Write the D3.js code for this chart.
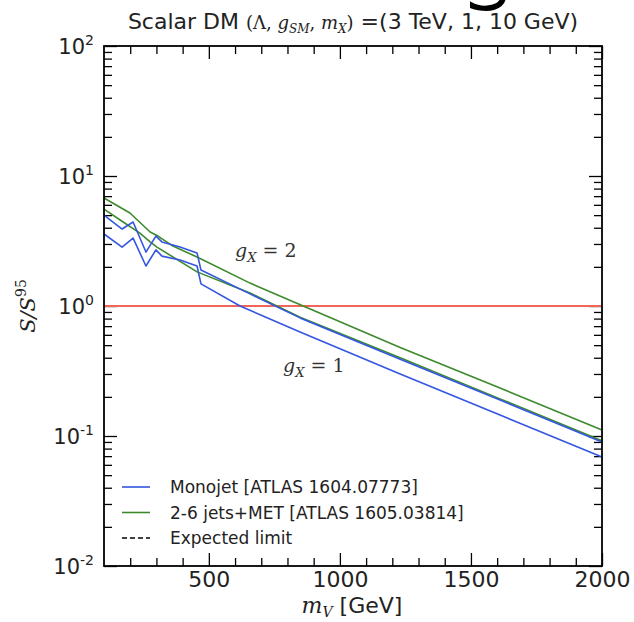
<!DOCTYPE html>
<html>
  <head>
    <meta charset="utf-8" />
    <script src="https://d3js.org/d3.v7.min.js"></script>
    <style>
        body {margin: 0; background: #fff;}
        text {font-family: "DejaVu Sans", sans-serif;}
    </style>
  </head>
  <body>
    <svg id="viz"></svg>
    <script>
        var width = 634
        var height = 622

        // curves: mediator mass [GeV] and S/S95
        var monoG1Mass = [100, 169, 211, 260, 298, 321, 390, 455, 470, 619, 848, 1230, 1611, 2000]
        var monoG1Vals = [3.58, 2.84, 3.33, 2.03, 2.70, 2.42, 2.26, 2.03, 1.48, 1.0, 0.63, 0.30, 0.145, 0.069]
        var monoG2Mass = [100, 169, 211, 260, 298, 321, 390, 455, 470, 657, 848, 1230, 1611, 2000]
        var monoG2Vals = [5.01, 3.91, 4.43, 2.60, 3.45, 3.11, 2.84, 2.56, 1.89, 1.24, 0.81, 0.39, 0.189, 0.090]
        var jetsG1Mass = [100, 173, 237, 276, 302, 455, 657, 848, 1230, 1611, 2000]
        var jetsG1Vals = [5.57, 4.43, 3.64, 3.11, 2.84, 1.83, 1.26, 0.82, 0.40, 0.193, 0.092]
        var jetsG2Mass = [100, 199, 276, 306, 363, 455, 657, 860, 1230, 1611, 2000]
        var jetsG2Vals = [6.78, 5.19, 3.71, 3.45, 2.89, 2.38, 1.50, 1.0, 0.48, 0.234, 0.111]

        var xTicks = [500, 1000, 1500, 2000]
        var yTicks = [0.01, 0.1, 1, 10, 100]
        var yExps = ["-2", "-1", "0", "1", "2"]
        var legendNames = ["Monojet [ATLAS 1604.07773]", "2-6 jets+MET [ATLAS 1605.03814]", "Expected limit"]

        var blue = "#3456e0", green = "#3c8a2c"

        var svg = d3.select("#viz").attr("width", width).attr("height", height)

        var x = d3.scaleLinear().domain([100, 2000]).range([104, 602])
        var y = d3.scaleLog().domain([0.01, 100]).range([566, 46])

        // the stray big letter cut off at the top edge
        svg.append("text").attr("x", 460).attr("y", -9)
            .style("font-family", "DejaVu Sans").style("font-weight", "200").style("font-size", "90px")
            .attr("fill", "#000").attr("stroke", "#000").attr("stroke-width", 1.8).text("g")

        // minor ticks
        var xMinor = d3.range(200, 2000, 100).filter(function(d){ return d % 500 != 0 })
        var yMinor = []
        yTicks.slice(0, 4).forEach(function(p){ for (var k = 2; k < 10; k++) yMinor.push(p * k) })

        var ax = svg.append("g")
        function tickAxis(axisFn, scale, vals, size, tr) {
            var g = ax.append("g").attr("transform", tr)
                .call(axisFn(scale).tickValues(vals).tickSizeInner(-size).tickSizeOuter(0).tickFormat(""))
            g.select(".domain").remove()
            g.selectAll("line").attr("stroke", "#000").attr("stroke-width", 1.3)
            return g
        }
        tickAxis(d3.axisBottom, x, xMinor, 8, "translate(0,566)")
        tickAxis(d3.axisTop, x, xMinor, 8, "translate(0,46)")
        tickAxis(d3.axisTop, x, xTicks, 13, "translate(0,46)")
        tickAxis(d3.axisLeft, y, yMinor, 8, "translate(104,0)")
        tickAxis(d3.axisLeft, y, yTicks, 13, "translate(104,0)")
        tickAxis(d3.axisRight, y, yMinor, 8, "translate(602,0)")
        tickAxis(d3.axisRight, y, yTicks, 13, "translate(602,0)")

        var xb = ax.append("g").attr("transform", "translate(0,566)")
            .call(d3.axisBottom(x).tickValues(xTicks).tickSizeInner(-13).tickSizeOuter(0)
                .tickPadding(5).tickFormat(d3.format("d")))
        xb.select(".domain").remove()
        xb.selectAll("line").attr("stroke", "#000").attr("stroke-width", 1.3)
        xb.selectAll("text").style("font-family", "DejaVu Sans").style("font-size", "22px").attr("fill", "#222")

        // y tick labels with superscripts
        var yl = ax.selectAll(".ylab").data(yTicks).enter().append("text")
            .attr("x", 94).attr("y", function(d){ return y(d) + 8 })
            .attr("text-anchor", "end").attr("fill", "#222").style("font-size", "21px")
        yl.append("tspan").text("10")
        yl.append("tspan").attr("dy", -9).style("font-size", "14px").text(function(d, i){ return yExps[i] })

        // red reference line at 1
        svg.append("line").attr("x1", x(100)).attr("x2", x(2000)).attr("y1", y(1)).attr("y2", y(1))
            .attr("stroke", "#f2665a").attr("stroke-width", 2)

        var line = d3.line().x(function(d){ return x(d[0]) }).y(function(d){ return y(d[1]) })
        var curves = [
            {m: jetsG2Mass, v: jetsG2Vals, c: green},
            {m: jetsG1Mass, v: jetsG1Vals, c: green},
            {m: monoG2Mass, v: monoG2Vals, c: blue},
            {m: monoG1Mass, v: monoG1Vals, c: blue}
        ]
        svg.append("g").selectAll("path").data(curves).enter().append("path")
            .attr("d", function(d){ return line(d3.zip(d.m, d.v)) })
            .attr("fill", "none").attr("stroke", function(d){ return d.c })
            .attr("stroke-width", 1.6).attr("stroke-linejoin", "round")

        // frame
        svg.append("rect").attr("x", 104).attr("y", 46).attr("width", 498).attr("height", 520)
            .attr("fill", "none").attr("stroke", "#000").attr("stroke-width", 1.8)

        // annotations g_X = 2 / 1
        function gLabel(px, py, num) {
            var t = svg.append("text").attr("x", px).attr("y", py).attr("fill", "#333")
                .style("font-family", "DejaVu Serif").style("font-size", "19px")
            t.append("tspan").style("font-style", "italic").text("g")
            t.append("tspan").attr("dy", 5).style("font-style", "italic").style("font-size", "13px").text("X")
            t.append("tspan").attr("dy", -5).text(" = " + num)
        }
        gLabel(235, 257, 2)
        gLabel(283, 372, 1)

        // legend
        var lg = svg.append("g").selectAll("g").data(legendNames).enter().append("g")
            .attr("transform", function(d, i){ return "translate(122," + (487 + i * 25.5) + ")" })
        lg.append("line").attr("x1", 0).attr("x2", 28)
            .attr("stroke", function(d, i){ return [blue, green, "#000"][i] })
            .attr("stroke-width", 1.6)
            .attr("stroke-dasharray", function(d, i){ return i == 2 ? "5,3" : null })
        lg.append("text").attr("x", 48).attr("y", 6).attr("fill", "#222")
            .style("font-size", "17px").text(function(d){ return d })

        // title
        var tt = svg.append("text").attr("x", 353).attr("y", 29).attr("text-anchor", "middle")
            .attr("fill", "#222").style("font-size", "22px")
        tt.append("tspan").text("Scalar DM ")
        var serif = function(s, it){ return tt.append("tspan").style("font-family", "DejaVu Serif").style("font-size", "18px").style("font-style", it ? "italic" : "normal").text(s) }
        serif("(\u039B, ")
        serif("g", true)
        serif("SM", true).attr("dy", 4).style("font-size", "12px")
        serif(", ").attr("dy", -4)
        serif("m", true)
        serif("X", true).attr("dy", 4).style("font-size", "12px")
        serif(")").attr("dy", -4)
        tt.append("tspan").text(" =(3 TeV, 1, 10 GeV)")

        // x label
        var xl = svg.append("text").attr("x", 352).attr("y", 613).attr("text-anchor", "middle")
            .attr("fill", "#222").style("font-size", "22px")
        xl.append("tspan").style("font-family", "DejaVu Serif").style("font-style", "italic").text("m")
        xl.append("tspan").style("font-family", "DejaVu Serif").style("font-style", "italic")
            .style("font-size", "14px").attr("dy", 4).text("V")
        xl.append("tspan").attr("dy", -4).text(" [GeV]")

        // y label
        var ylab = svg.append("text").attr("transform", "translate(35,306) rotate(-90)")
            .attr("text-anchor", "middle").attr("fill", "#222")
            .style("font-family", "DejaVu Serif").style("font-style", "italic").style("font-size", "21px")
        ylab.append("tspan").text("S/S")
        ylab.append("tspan").attr("dy", -9).style("font-size", "14px").style("font-style", "normal").text("95")
    </script>
  </body>
</html>
